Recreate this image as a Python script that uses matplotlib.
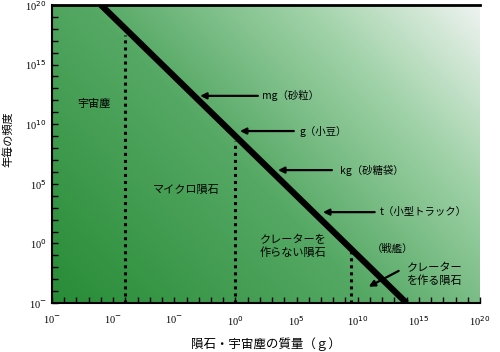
import numpy as np
import matplotlib
matplotlib.use("Agg")
import matplotlib.pyplot as plt
from matplotlib.colors import LinearSegmentedColormap
from matplotlib.ticker import FixedLocator, FixedFormatter

plt.rcParams['font.family'] = ['Noto Sans CJK JP', 'DejaVu Sans']

# data
line_mass = [1e-11, 1e14]
line_freq = [1e20, 1e-5]
boundary_mass = [1e-9, 1e0, 3e9]
boundary_top = [10 ** 17.5, 10 ** 8.6, 10 ** -0.5]
x_major = [-15, -10, -5, 0, 5, 10, 15, 20]
x_labels = ["10$^{-}$", "10$^{-}$", "10$^{-}$", "10$^{0}$", "10$^{5}$",
            "10$^{10}$", "10$^{15}$", "10$^{20}$"]
y_major = [-5, 0, 5, 10, 15, 20]
y_labels = ["10$^{-}$", "10$^{0}$", "10$^{5}$", "10$^{10}$", "10$^{15}$", "10$^{20}$"]
arrow_labels = ["mg（砂粒）", "g（小豆）", "kg（砂糖袋）", "t（小型トラック）"]
region_labels = ["宇宙塵", "マイクロ隕石", "クレーターを\n作らない隕石"]

fig = plt.figure(figsize=(5.0, 3.52), dpi=100)
ax = fig.add_axes([0.104, 0.139, 0.856, 0.847])
ax.set_xscale('log')
ax.set_yscale('log')
ax.set_xlim(1e-15, 1e20)
ax.set_ylim(1e-5, 1e20)

# background gradient
u, v = np.meshgrid(np.linspace(0, 1, 300), np.linspace(0, 1, 200))
t = 0.6 * u + 0.4 * v
cmap = LinearSegmentedColormap.from_list("bg", [
    (0.0, (40/255, 140/255, 55/255)),
    (0.45, (85/255, 168/255, 100/255)),
    (0.75, (160/255, 210/255, 168/255)),
    (1.0, (238/255, 243/255, 240/255))])
ax.imshow(t, extent=[0, 1, 0, 1], transform=ax.transAxes, origin='lower',
          aspect='auto', cmap=cmap, zorder=0, interpolation='bilinear')

ax.plot(line_mass, line_freq, color='black', lw=4.5, solid_capstyle='butt', zorder=3)
for m, top in zip(boundary_mass, boundary_top):
    ax.plot([m, m], [1e-5, top], color='black', lw=2.2,
            linestyle=(0, (1, 1.3)), dash_capstyle='butt', zorder=2)

# ticks every decade, labels every five
ax.xaxis.set_major_locator(FixedLocator([10.0 ** k for k in range(-15, 21)]))
ax.yaxis.set_major_locator(FixedLocator([10.0 ** k for k in range(-5, 21)]))
ax.xaxis.set_minor_locator(FixedLocator([]))
ax.yaxis.set_minor_locator(FixedLocator([]))
xl = [x_labels[x_major.index(k)] if k in x_major else "" for k in range(-15, 21)]
yl = [y_labels[y_major.index(k)] if k in y_major else "" for k in range(-5, 21)]
ax.xaxis.set_major_formatter(FixedFormatter(xl))
ax.yaxis.set_major_formatter(FixedFormatter(yl))
ax.tick_params(direction='in', length=4, width=1, labelsize=7.5)
ax.tick_params(axis='x', pad=8)
ax.tick_params(axis='y', pad=4)
for lab in ax.get_xticklabels() + ax.get_yticklabels():
    lab.set_fontfamily('Liberation Serif')

for s in ['left', 'bottom']:
    ax.spines[s].set_linewidth(1.5)
ax.spines['top'].set_linewidth(2)
ax.spines['right'].set_visible(False)

ax.set_xlabel("隕石・宇宙塵の質量（ｇ）", fontsize=9, labelpad=7)
ax.set_ylabel("年毎の頻度", fontsize=8, labelpad=6)
ax.yaxis.set_label_coords(-0.09, 0.55)

# annotations (axes fraction)
arrow_tips = [(0.346, 0.695), (0.439, 0.577), (0.528, 0.446), (0.633, 0.305)]
arrow_tails = [(0.481, 0.695), (0.565, 0.577), (0.654, 0.446), (0.754, 0.305)]
text_x = [0.49, 0.579, 0.673, 0.766]
for lab, tip, tail, tx in zip(arrow_labels, arrow_tips, arrow_tails, text_x):
    ax.annotate("", xy=tip, xytext=tail, xycoords='axes fraction',
                arrowprops=dict(arrowstyle='-|>', color='black', lw=1.6,
                                mutation_scale=9, shrinkA=0, shrinkB=0), zorder=4)
    ax.text(tx, tip[1], lab, transform=ax.transAxes, fontsize=7.5,
            va='center', ha='left', zorder=4)

ax.text(0.058, 0.668, region_labels[0], transform=ax.transAxes, fontsize=8, va='center')
ax.text(0.235, 0.38, region_labels[1], transform=ax.transAxes, fontsize=8, va='center')
ax.text(0.486, 0.19, region_labels[2], transform=ax.transAxes, fontsize=8,
        va='center', linespacing=1.3)
ax.text(0.795, 0.18, "（戦艦）", transform=ax.transAxes, fontsize=7.5,
        va='center', ha='center')
ax.text(0.83, 0.095, "クレーター\nを作る隕石", transform=ax.transAxes, fontsize=8,
        va='center', ha='left', linespacing=1.3)
ax.annotate("", xy=(0.74, 0.055), xytext=(0.81, 0.108), xycoords='axes fraction',
            arrowprops=dict(arrowstyle='-|>', color='black', lw=1.6,
                            mutation_scale=9, shrinkA=0, shrinkB=0), zorder=4)

fig.savefig("out.png", dpi=100)
